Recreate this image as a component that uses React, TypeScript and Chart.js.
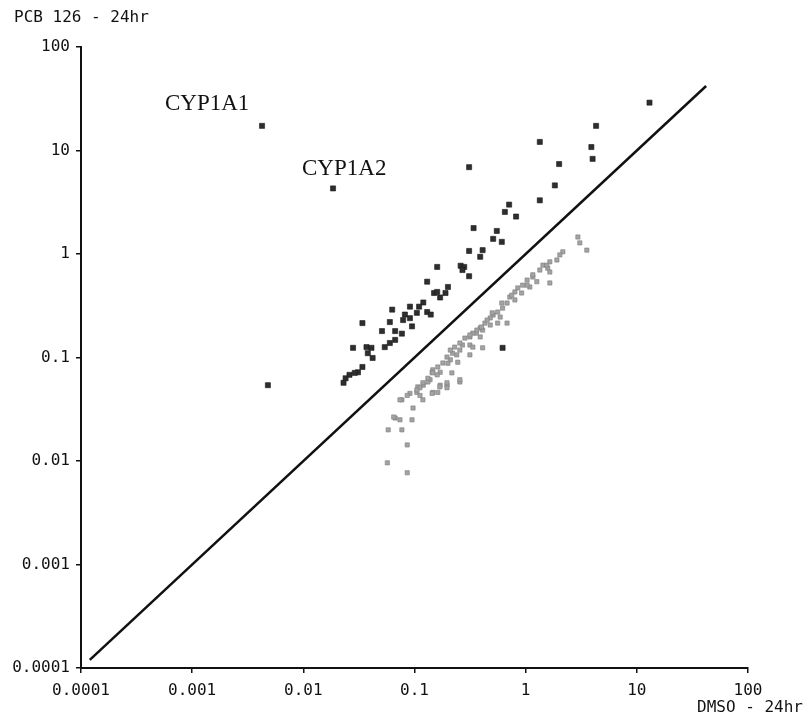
import React, { useEffect, useRef } from "react";
import { Chart, registerables } from "chart.js";

Chart.register(...registerables);

// Up-regulated genes (dark markers): DMSO value, PCB 126 value
const upX = [0.00425, 0.0185, 0.0048, 0.034, 0.31, 1.34, 4.3, 3.9, 4.0, 13, 2.0, 1.83, 1.34, 0.71, 0.65, 0.82, 0.34, 0.55, 0.51, 0.61, 0.31, 0.41, 0.39, 0.26, 0.28, 0.31, 0.2, 0.19, 0.16, 0.13, 0.15, 0.17, 0.12, 0.11, 0.13, 0.105, 0.091, 0.082, 0.079, 0.091, 0.14, 0.063, 0.06, 0.051, 0.067, 0.077, 0.095, 0.028, 0.037, 0.041, 0.054, 0.06, 0.067, 0.042, 0.038, 0.034, 0.031, 0.029, 0.024, 0.023, 0.026, 0.16, 0.27, 0.62];
const upY = [17.3, 4.3, 0.054, 0.215, 6.9, 12.1, 17.3, 10.8, 8.3, 29, 7.4, 4.6, 3.3, 3.0, 2.55, 2.3, 1.78, 1.67, 1.4, 1.31, 1.07, 1.09, 0.94, 0.77, 0.75, 0.61, 0.48, 0.42, 0.75, 0.54, 0.42, 0.38, 0.34, 0.31, 0.275, 0.27, 0.31, 0.26, 0.23, 0.24, 0.26, 0.29, 0.22, 0.18, 0.18, 0.17, 0.2, 0.124, 0.126, 0.124, 0.126, 0.138, 0.148, 0.099, 0.11, 0.081, 0.072, 0.071, 0.063, 0.057, 0.068, 0.43, 0.70, 0.124];

// Down-regulated genes (light markers)
const downX = [0.68, 0.56, 0.48, 0.41, 0.36, 0.315, 0.39, 0.27, 0.315, 0.41, 0.22, 0.256, 0.21, 0.245, 0.2, 0.315, 0.146, 0.17, 0.217, 0.16, 0.138, 0.12, 0.132, 0.256, 0.196, 0.17, 0.107, 0.105, 0.091, 0.086, 0.112, 0.119, 0.146, 0.077, 0.097, 0.067, 0.074, 0.095, 0.058, 0.077, 0.086, 0.057, 0.086, 2.95, 3.07, 3.55, 2.16, 2.03, 1.91, 1.65, 1.43, 1.58, 1.34, 1.65, 1.16, 1.26, 1.03, 0.94, 1.09, 0.85, 0.80, 0.92, 0.72, 0.80, 0.68, 0.61, 0.62, 0.56, 0.51, 0.59, 0.48, 0.43, 0.39, 0.335, 0.074, 0.112, 0.144, 0.162, 0.196, 0.065, 0.50, 0.45, 0.40, 0.364, 0.315, 0.284, 0.256, 0.23, 0.21, 0.196, 0.24, 0.18, 0.162, 0.146, 0.132, 0.119, 0.105, 0.196, 0.169, 0.144, 0.256, 0.335, 1.55, 1.65, 1.16, 1.03, 0.75];
const downY = [0.215, 0.215, 0.206, 0.184, 0.172, 0.158, 0.158, 0.132, 0.132, 0.124, 0.11, 0.118, 0.095, 0.09, 0.088, 0.106, 0.076, 0.072, 0.071, 0.068, 0.061, 0.054, 0.058, 0.058, 0.054, 0.054, 0.052, 0.046, 0.045, 0.043, 0.043, 0.039, 0.046, 0.039, 0.0325, 0.026, 0.025, 0.025, 0.02, 0.02, 0.0143, 0.0096, 0.0077, 1.46, 1.28, 1.09, 1.05, 0.98, 0.875, 0.84, 0.78, 0.73, 0.70, 0.525, 0.60, 0.54, 0.56, 0.50, 0.48, 0.47, 0.43, 0.42, 0.384, 0.36, 0.336, 0.336, 0.30, 0.275, 0.257, 0.246, 0.241, 0.215, 0.193, 0.172, 0.039, 0.051, 0.072, 0.046, 0.051, 0.0266, 0.27, 0.23, 0.197, 0.184, 0.165, 0.154, 0.138, 0.126, 0.118, 0.101, 0.106, 0.0885, 0.081, 0.071, 0.063, 0.057, 0.0485, 0.057, 0.052, 0.045, 0.061, 0.126, 0.78, 0.67, 0.63, 0.50, 0.40];

// Identity line endpoints
const diagX = [0.00012, 42];
const diagY = [0.00012, 42];

const tickValues = [0.0001, 0.001, 0.01, 0.1, 1, 10, 100];
const tickLabels = ["0.0001", "0.001", "0.01", "0.1", "1", "10", "100"];

const yTitle = "PCB 126 - 24hr";
const xTitle = "DMSO - 24hr";
const geneLabels = ["CYP1A1", "CYP1A2"];

const MONO = '"DejaVu Sans Mono", monospace';

export default function App() {
  const ref = useRef<HTMLCanvasElement | null>(null);

  useEffect(() => {
    if (!ref.current) return;
    const textPlugin = {
      id: "texts",
      afterDraw(chart: any) {
        const ctx = chart.ctx;
        const xs = chart.scales.x;
        const ys = chart.scales.y;
        ctx.save();
        ctx.fillStyle = "#111";
        ctx.font = `16px ${MONO}`;
        ctx.textBaseline = "middle";
        ctx.textAlign = "left";
        ctx.fillText(yTitle, 14, 18);
        ctx.textAlign = "right";
        ctx.fillText(xTitle, 803, 708);
        ctx.font = '23px "Liberation Serif", serif';
        ctx.textAlign = "left";
        ctx.textBaseline = "alphabetic";
        const p1x = xs.getPixelForValue(upX[0]);
        const p1y = ys.getPixelForValue(upY[0]);
        ctx.fillText(geneLabels[0], p1x - 97, p1y - 16);
        const p2x = xs.getPixelForValue(upX[1]);
        const p2y = ys.getPixelForValue(upY[1]);
        ctx.fillText(geneLabels[1], p2x - 31, p2y - 13);
        ctx.restore();
      },
    };

    const chart = new Chart(ref.current, {
      type: "scatter",
      data: {
        datasets: [
          {
            type: "line",
            data: diagX.map((x, i) => ({ x, y: diagY[i] })),
            borderColor: "#111",
            borderWidth: 2.5,
            pointRadius: 0,
            fill: false,
            order: 0,
          } as any,
          {
            data: downX.map((x, i) => ({ x, y: downY[i] })),
            pointStyle: "rect",
            pointRadius: 3,
            backgroundColor: "#a3a3a3",
            borderColor: "#7d7d7d",
            borderWidth: 0.6,
            order: 2,
          },
          {
            data: upX.map((x, i) => ({ x, y: upY[i] })),
            pointStyle: "rect",
            pointRadius: 3.6,
            backgroundColor: "#2e2e2e",
            borderColor: "#1a1a1a",
            borderWidth: 0.6,
            order: 1,
          },
        ],
      },
      options: {
        responsive: false,
        animation: false,
        events: [],
        layout: { padding: { left: 0, right: 55, top: 47, bottom: 0 } },
        plugins: { legend: { display: false }, tooltip: { enabled: false } },
        scales: {
          x: {
            type: "logarithmic",
            min: 0.0001,
            max: 100,
            afterBuildTicks: (s: any) => {
              s.ticks = tickValues.map((v) => ({ value: v }));
            },
            afterFit: (s: any) => {
              s.height = 52;
            },
            ticks: {
              autoSkip: false,
              maxRotation: 0,
              padding: 8,
              color: "#111",
              font: { family: MONO, size: 16 },
              callback: (_v: any, i: number) => tickLabels[i],
            },
            grid: { drawOnChartArea: false, tickLength: 5, color: "#111", lineWidth: 1.5 },
            border: { display: true, color: "#111", width: 2 },
          },
          y: {
            type: "logarithmic",
            min: 0.0001,
            max: 100,
            afterBuildTicks: (s: any) => {
              s.ticks = tickValues.map((v) => ({ value: v }));
            },
            afterFit: (s: any) => {
              s.width = 81;
            },
            ticks: {
              autoSkip: false,
              padding: 6,
              color: "#111",
              font: { family: MONO, size: 16 },
              callback: (_v: any, i: number) => tickLabels[i],
            },
            grid: { drawOnChartArea: false, tickLength: 5, color: "#111", lineWidth: 1.5 },
            border: { display: true, color: "#111", width: 2 },
          },
        },
      },
      plugins: [textPlugin],
    });
    return () => chart.destroy();
  }, []);

  return (
    <div style={{ position: "absolute", left: 0, top: 0, width: 803, height: 720, background: "#fff" }}>
      <canvas ref={ref} width={803} height={720} style={{ width: 803, height: 720 }} />
    </div>
  );
}
